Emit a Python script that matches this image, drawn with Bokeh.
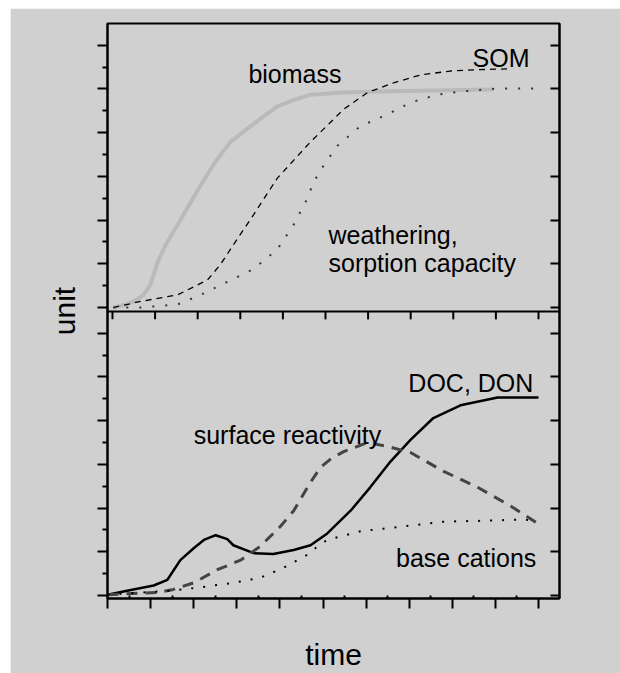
from bokeh.plotting import figure
from bokeh.models import Range1d, LinearAxis, FixedTicker, Span, CustomJSTickFormatter
from bokeh.embed import file_html
from bokeh.resources import INLINE
from bokeh.core.properties import value

# ---------------- data ----------------
x_ticks = list(range(11))
y_ticks = list(range(7))

# upper panel
biomass_t = [0.02, 0.31, 0.54, 0.73, 0.89, 1.06, 1.24, 1.60, 2.07, 2.42, 2.77, 3.24, 3.87, 4.30, 4.65, 5.42, 6.22, 8.94]
biomass_v = [0.00, 0.07, 0.16, 0.29, 0.52, 1.04, 1.42, 2.01, 2.80, 3.34, 3.79, 4.15, 4.60, 4.76, 4.87, 4.92, 4.94, 4.99]

som_t = [0.02, 0.66, 1.53, 2.23, 2.54, 2.84, 3.31, 3.87, 4.65, 5.12, 5.42, 5.99, 6.60, 7.23, 7.93, 8.57, 9.34]
som_v = [0.00, 0.14, 0.29, 0.63, 0.99, 1.44, 2.12, 2.96, 3.79, 4.24, 4.53, 4.92, 5.14, 5.32, 5.41, 5.44, 5.46]

weath_t = [0.02, 0.66, 1.53, 2.07, 2.70, 3.31, 3.87, 4.25, 4.58, 4.69, 4.88, 5.28, 5.82, 6.46, 7.00, 7.63, 8.17, 9.04, 9.98]
weath_v = [0.00, 0.00, 0.07, 0.29, 0.59, 0.88, 1.33, 1.89, 2.50, 2.80, 3.14, 3.70, 4.15, 4.42, 4.69, 4.87, 4.94, 5.01, 5.01]

# lower panel
doc_t = [0.00, 0.60, 1.07, 1.39, 1.69, 2.00, 2.25, 2.51, 2.78, 2.92, 3.39, 3.85, 4.32, 4.71, 5.10, 5.64, 6.10, 6.57, 7.03, 7.56, 8.19, 9.05, 10.0]
doc_v = [0.02, 0.14, 0.23, 0.36, 0.81, 1.08, 1.28, 1.38, 1.29, 1.15, 0.97, 0.95, 1.04, 1.15, 1.42, 1.94, 2.48, 3.07, 3.56, 4.06, 4.35, 4.53, 4.53]

surf_t = [0.00, 1.16, 1.53, 2.00, 2.55, 3.09, 3.55, 4.01, 4.32, 4.71, 4.94, 5.20, 5.48, 6.03, 6.50, 7.03, 7.80, 8.58, 9.35, 9.98]
surf_v = [0.02, 0.07, 0.14, 0.29, 0.59, 0.81, 1.13, 1.58, 1.94, 2.59, 2.93, 3.14, 3.29, 3.50, 3.41, 3.27, 2.84, 2.48, 2.05, 1.65]

base_t = [0.00, 1.46, 2.09, 2.92, 3.55, 4.08, 4.41, 4.71, 4.94, 5.24, 5.87, 6.40, 7.03, 7.80, 8.72, 9.65, 9.98]
base_v = [0.02, 0.11, 0.18, 0.29, 0.41, 0.63, 0.81, 0.97, 1.20, 1.31, 1.47, 1.53, 1.60, 1.69, 1.71, 1.74, 1.71]

# ---------------- style ----------------
FONT = "Liberation Sans"
BG = "#d0d0d0"
OFFSET = 6.587          # upper panel's zero, in lower-panel units
SEP_TOP = -0.09         # separator line, in upper-panel units
PX_Y = 44.33            # pixels per y unit

p = figure(width=610, height=665, output_backend="svg", toolbar_location=None,
           x_range=Range1d(0, 10.487), y_range=Range1d(-0.068, 13.084),
           x_axis_type=None, y_axis_type=None,
           min_border_left=97, min_border_right=61, min_border_top=15, min_border_bottom=67,
           background_fill_color=BG, border_fill_color=BG, margin=(8, 0, 0, 10))
p.extra_x_ranges = {"top": Range1d(-0.117, 10.493)}
p.extra_y_ranges = {"top": Range1d(-6.655, 6.497)}
p.outline_line_color = "black"
p.outline_line_width = 2

yt_major = [v for v in y_ticks] + [v + OFFSET for v in y_ticks]
yt_minor = [v + 0.5 for v in y_ticks[:-1]] + [v + 0.5 + OFFSET for v in y_ticks[:-1]]


def style(ax):
    ax.formatter = CustomJSTickFormatter(code="return ''")
    ax.major_label_text_font_size = "1px"
    ax.major_label_standoff = 0
    ax.axis_line_width = 2
    ax.major_tick_line_width = 2
    ax.minor_tick_line_width = 2
    ax.axis_label_text_font = FONT
    ax.axis_label_text_font_size = "30px"
    ax.axis_label_text_font_style = "normal"
    ax.axis_label_text_color = "black"


left = LinearAxis(ticker=FixedTicker(ticks=yt_major, minor_ticks=yt_minor), axis_label="unit")
style(left)
left.major_tick_out, left.major_tick_in = 10, 0
left.minor_tick_out, left.minor_tick_in = 5, 0
left.axis_label_standoff = 17
p.add_layout(left, "left")

right = LinearAxis(ticker=FixedTicker(ticks=yt_major, minor_ticks=[]))
style(right)
right.major_tick_out, right.major_tick_in = 0, 9
right.minor_tick_out, right.minor_tick_in = 0, 0
p.add_layout(right, "right")

bottom = LinearAxis(ticker=FixedTicker(ticks=x_ticks, minor_ticks=[v + 0.5 for v in x_ticks[:-1]]),
                    axis_label="time")
style(bottom)
bottom.major_tick_out, bottom.major_tick_in = 10, 0
bottom.minor_tick_out, bottom.minor_tick_in = 0, 3
bottom.axis_label_standoff = 29
p.add_layout(bottom, "below")

# separator between the two panels, with the upper panel's time ticks
p.add_layout(Span(location=SEP_TOP, dimension="width", line_color="black", line_width=2,
                  y_range_name="top"))
p.segment(x0=x_ticks, y0=[SEP_TOP] * len(x_ticks), x1=x_ticks,
          y1=[SEP_TOP - 8 / PX_Y] * len(x_ticks), x_range_name="top", y_range_name="top",
          line_color="black", line_width=2)

# upper panel curves
T = dict(x_range_name="top", y_range_name="top")
p.line(biomass_t, biomass_v, line_color="#bababa", line_width=4, **T)
p.line(som_t, som_v, line_color="black", line_width=1.3, line_dash="6 5", **T)
p.line(weath_t, weath_v, line_color="#333333", line_width=2, line_dash="2 11", **T)

# lower panel curves
p.line(doc_t, doc_v, line_color="black", line_width=2.5)
p.line(surf_t, surf_v, line_color="#444444", line_width=3, line_dash="11 8")
p.line(base_t, base_v, line_color="black", line_width=2, line_dash="2 10")


def label(x, y, txt, align, **kw):
    p.text(x=[x], y=[y], text=[txt], text_font=value(FONT), text_font_size="25px",
           text_align=align, text_baseline="alphabetic", text_color="black", **kw)


label(3.19, 5.35, "biomass", "left", **T)
label(9.79, 5.71, "SOM", "right", **T)
label(5.07, 1.67, "weathering,", "left", **T)
label(5.07, 1.03, "sorption capacity", "left", **T)
label(9.88, 4.87, "DOC, DON", "right")
label(2.00, 3.68, "surface reactivity", "left")
label(9.95, 0.857, "base cations", "right")

open("out.html", "w").write(file_html(p, INLINE))
